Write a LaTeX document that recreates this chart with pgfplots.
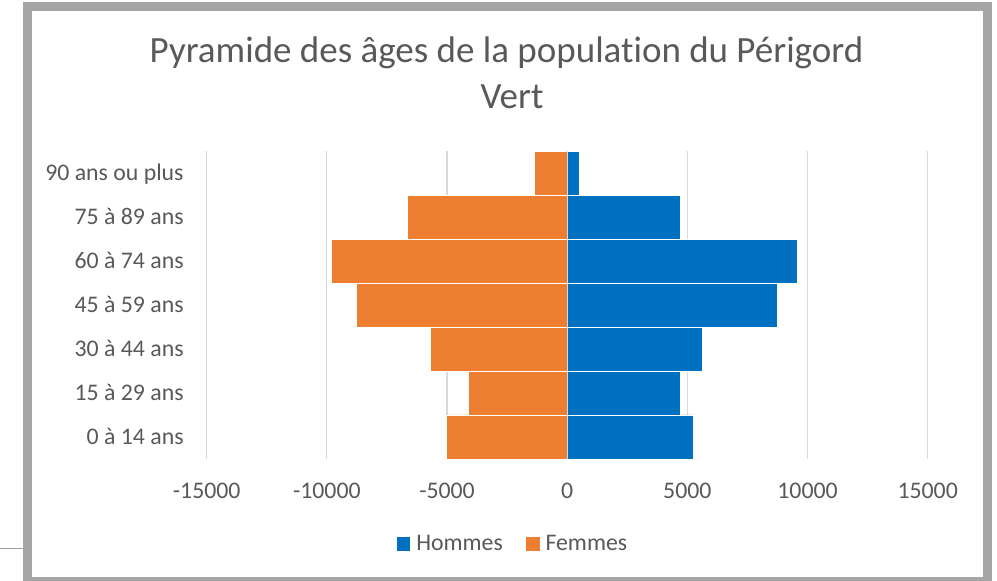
\documentclass[border=0pt]{standalone}
\usepackage{fontspec}
\setmainfont{Carlito}[Ligatures=NoCommon]
\usepackage{pgfplots}
\pgfplotsset{compat=1.18}

\definecolor{hommes}{HTML}{0070C0}
\definecolor{femmes}{HTML}{ED7D31}
\definecolor{textgray}{HTML}{595959}
\definecolor{gridgray}{HTML}{D9D9D9}
\definecolor{framegray}{HTML}{A5A5A5}

\newcommand{\tickfont}{\fontsize{11.9}{14.3}\selectfont}

\begin{document}
\begin{tikzpicture}
% canvas 997x580 px at 0.5pt per px
\useasboundingbox (0,0) rectangle (498.5pt,-290pt);
\fill[white] (0,0) rectangle (498.5pt,-290pt);
\begin{scope}
  \clip (0,0) rectangle (498.5pt,-290pt);
  \draw[framegray, line width=4.2pt] (13.75pt,-3.17pt) rectangle (493.75pt,-290.75pt);
\end{scope}
\draw[framegray!95!black, line width=0.5pt] (0,-274.15pt) -- (11.65pt,-274.15pt);

\node[anchor=base, text=textgray, font=\fontsize{18.5}{23}\selectfont, inner sep=0pt]
  at (253.25pt,-31.15pt) {Pyramide des âges de la population du Périgord};
\node[anchor=base, text=textgray, font=\fontsize{18.5}{23}\selectfont, inner sep=0pt]
  at (256pt,-54.25pt) {Vert};

\begin{axis}[
  at={(103.35pt,-75.5pt)}, anchor=north west,
  width=360.5pt, height=154pt, scale only axis,
  xbar, bar width=22pt,
  xmin=-15000, xmax=15000, ymin=-0.5, ymax=6.5,
  scaled x ticks=false,
  xtick={-15000,-10000,-5000,0,5000,10000,15000},
  xticklabels={-15000,-10000,-5000,0,5000,10000,15000},
  ytick={0,1,2,3,4,5,6},
  yticklabels={0 à 14 ans,15 à 29 ans,30 à 44 ans,45 à 59 ans,60 à 74 ans,75 à 89 ans,90 ans ou plus},
  xmajorgrids, ymajorgrids=false,
  major grid style={draw=gridgray, line width=0.6pt},
  axis line style={draw=none},
  major tick length=0pt,
  tick label style={font=\tickfont, text=textgray, inner sep=0pt},
  xticklabel style={anchor=base, yshift=-19.65pt},
  yticklabel style={anchor=base east, xshift=-11.35pt, yshift=-3.75pt},
  legend columns=2,
  legend style={at={(axis description cs:0.4235,0)}, anchor=center, yshift=-42.5pt,
    draw=none, fill=none, inner sep=0pt, font=\tickfont, text=textgray,
    nodes={inner sep=0pt},
    /tikz/every odd column/.append style={column sep=3pt},
    /tikz/every even column/.append style={column sep=11.7pt}},
  legend cell align=left,
  legend image code/.code={\fill[#1, draw=none] (0pt,-3.33pt) rectangle (6.67pt,3.33pt);},
]
\addplot[fill=hommes, draw=white, line width=0.4pt, bar shift=0pt]
  coordinates {(5240,0) (4700,1) (5620,2) (8740,3) (9580,4) (4700,5) (500,6)};
\addlegendentry{Hommes}
\addplot[fill=femmes, draw=white, line width=0.4pt, bar shift=0pt]
  coordinates {(-5020,0) (-4110,1) (-5690,2) (-8780,3) (-9800,4) (-6640,5) (-1350,6)};
\addlegendentry{Femmes}
\draw[gridgray, line width=0.6pt] (axis cs:0,-0.5) -- (axis cs:0,6.5);
\end{axis}
\end{tikzpicture}
\end{document}
